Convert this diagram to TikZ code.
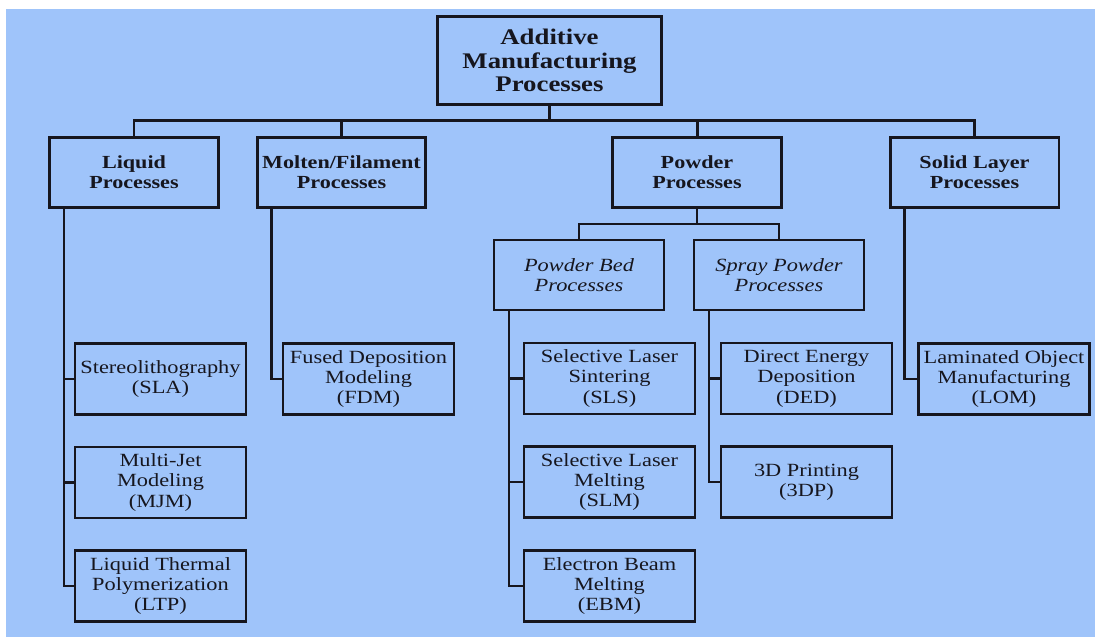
\documentclass[tikz,border=0pt]{standalone}
\usepackage{fontspec}
\setmainfont{Liberation Serif}[FakeStretch=1.2]
\usepackage{tikz}
\usetikzlibrary{calc, positioning}
\definecolor{bgblue}{RGB}{159,196,250}
\definecolor{ink}{RGB}{22,22,30}

\tikzset{
  topbox/.style={draw=ink, text=ink, line width=1.7pt, minimum width=4.48cm, minimum height=1.76cm,
    align=center, inner sep=0pt, font=\fontsize{12.7}{13.4}\selectfont\bfseries},
  classbox/.style={draw=ink, text=ink, line width=1.7pt, minimum width=3.38cm, minimum height=1.4cm,
    align=center, inner sep=0pt, font=\fontsize{10.5}{11.4}\selectfont\bfseries},
  subbox/.style={draw=ink, text=ink, line width=1.25pt, minimum width=3.4cm, minimum height=1.4cm,
    align=center, inner sep=0pt, font=\fontsize{10.6}{11.6}\selectfont\itshape},
  leafbox/.style={draw=ink, text=ink, line width=1.25pt, minimum width=3.42cm, minimum height=1.42cm,
    align=center, inner sep=0pt, font=\fontsize{10.6}{11.6}\selectfont},
  busline/.style={draw=ink, line width=1.7pt},
  leafline/.style={draw=ink, line width=1.25pt}
}

\begin{document}
\begin{tikzpicture}[x=0.02cm, y=-0.02cm]
\useasboundingbox (0,0) rectangle (1095,637);
\fill[bgblue] (6,9) rectangle (1095,637);

%top levels
\node[topbox] (root) at (549.5,60.5) {Additive\\Manufacturing\\Processes};
\node[classbox] (liquid) at (134,172.5) {Liquid\\Processes};
\node[classbox] (molten) at (341.5,172.5) {Molten/Filament\\Processes};
\node[classbox] (powder) at (697,172.5) {Powder\\Processes};
\node[classbox] (solid) at (974.5,172.5) {Solid Layer\\Processes};
\node[subbox] (bed) at (579,275) {Powder Bed\\Processes};
\node[subbox] (spray) at (779,275) {Spray Powder\\Processes};

%processes
\node[leafbox] (sla) at (160.5,379) {Stereolithography\\(SLA)};
\node[leafbox] (mjm) at (160.5,482.5) {Multi-Jet\\Modeling\\(MJM)};
\node[leafbox] (ltp) at (160.5,586) {Liquid Thermal\\Polymerization\\(LTP)};
\node[leafbox] (fdm) at (368.5,379) {Fused Deposition\\Modeling\\(FDM)};
\node[leafbox] (sls) at (609.5,378.5) {Selective Laser\\Sintering\\(SLS)};
\node[leafbox] (slm) at (609.5,482) {Selective Laser\\Melting\\(SLM)};
\node[leafbox] (ebm) at (609.5,586) {Electron Beam\\Melting\\(EBM)};
\node[leafbox] (ded) at (806.5,378.5) {Direct Energy\\Deposition\\(DED)};
\node[leafbox] (tdp) at (806.5,482) {3D Printing\\(3DP)};
\node[leafbox] (lom) at (1004,379) {Laminated Object\\Manufacturing\\(LOM)};

%buses
\coordinate (bus) at (0,120);
\coordinate (subbus) at (0,224);
\draw[busline] (root.south) -- (root.south |- bus);
\draw[busline] (liquid.north) |- (bus -| solid.north) -- (solid.north);
\draw[busline] (molten.north) -- (molten.north |- bus);
\draw[busline] (powder.north) -- (powder.north |- bus);
\draw[leafline] (powder.south) -- (powder.south |- subbus);
\draw[leafline] (bed.north) |- (subbus -| spray.north) -- (spray.north);

%branches
\draw[leafline] ([xshift=0.32cm]liquid.south west) coordinate (lq) |- (ltp.west);
\draw[leafline] (lq |- sla.west) -- (sla.west);
\draw[leafline] (lq |- mjm.west) -- (mjm.west);
\draw[leafline] ([xshift=0.32cm]molten.south west) |- (fdm.west);
\draw[leafline] ([xshift=0.32cm]bed.south west) coordinate (pb) |- (ebm.west);
\draw[leafline] (pb |- sls.west) -- (sls.west);
\draw[leafline] (pb |- slm.west) -- (slm.west);
\draw[leafline] ([xshift=0.32cm]spray.south west) coordinate (sp) |- (tdp.west);
\draw[leafline] (sp |- ded.west) -- (ded.west);
\draw[leafline] ([xshift=0.32cm]solid.south west) |- (lom.west);
\end{tikzpicture}
\end{document}
